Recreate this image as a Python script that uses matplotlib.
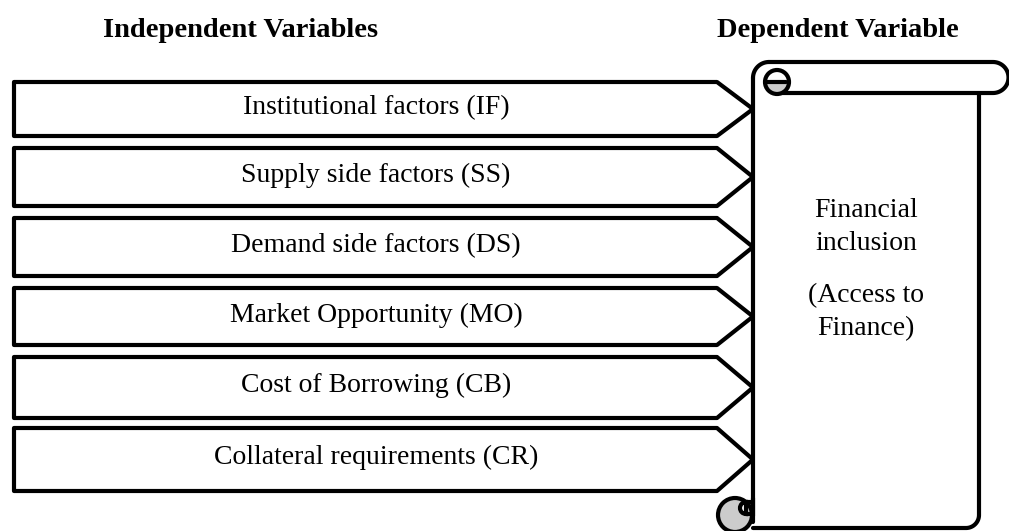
import numpy as np
import matplotlib
matplotlib.use("Agg")
import matplotlib.pyplot as plt
from matplotlib.patches import Polygon, Circle, Wedge

# ---- content ----
header_left = "Independent Variables"
header_right = "Dependent Variable"
factor_labels = [
    "Institutional factors (IF)",
    "Supply side factors (SS)",
    "Demand side factors (DS)",
    "Market Opportunity (MO)",
    "Cost of Borrowing (CB)",
    "Collateral requirements (CR)",
]
outcome_lines = ["Financial", "inclusion", "(Access to", "Finance)"]

# ---- layout (pixel coordinates) ----
W, H = 1009, 531
row_tops = [82, 148, 218, 288, 357, 428]
row_bottoms = [136, 206, 276, 345, 418, 491]
outcome_baselines = [217, 250, 302, 335]
arrow_left, arrow_flat_end, arrow_tip = 14, 717, 753
LW = 3.0
FS = 20
FS_HEAD = 20.5
SERIF = ["Liberation Serif", "DejaVu Serif"]

fig = plt.figure(figsize=(W / 100, H / 100), dpi=100)
ax = fig.add_axes([0, 0, 1, 1])
ax.set_xlim(0, W)
ax.set_ylim(H, 0)
ax.axis("off")

# headers
ax.text(241, 37, header_left, ha="center", va="baseline", fontsize=FS_HEAD,
        fontweight="bold", family=SERIF)
ax.text(838, 37, header_right, ha="center", va="baseline", fontsize=FS_HEAD,
        fontweight="bold", family=SERIF)

# arrows
for lab, t, b in zip(factor_labels, row_tops, row_bottoms):
    m = (t + b) / 2
    poly = Polygon([(arrow_left, t), (arrow_flat_end, t), (arrow_tip, m),
                    (arrow_flat_end, b), (arrow_left, b)], closed=True,
                   facecolor="white", edgecolor="black", lw=LW, joinstyle="round")
    ax.add_patch(poly)
    ax.text(376, m + 5, lab, ha="center", va="baseline", fontsize=FS, family=SERIF)

# ---- scroll ----
def arc(cx, cy, r, a0, a1, n=40):
    t = np.radians(np.linspace(a0, a1, n))
    return cx + r * np.cos(t), cy - r * np.sin(t)

kw = dict(color="black", lw=LW, solid_capstyle="round", solid_joinstyle="round")
xl, xr = 753, 979
band_top, band_bot = 62, 93
body_bot = 528

# body: right side + bottom
xs = [xr, xr]
ys = [band_bot, body_bot - 13]
ax_, ay_ = arc(xr - 13, body_bot - 13, 13, 0, -90)
xs += list(ax_) + [xl]
ys += list(ay_) + [body_bot]
ax.plot(xs, ys, **kw)

# left side
ax.plot([xl, xl], [78, 516], **kw)

# top-left outer curl
cx0, cy0 = 769, 78
axx, ayy = arc(cx0, cy0, 16, 90, 180)
ax.plot(axx, ayy, **kw)

# top band
bx, by = arc(993, (band_top + band_bot) / 2, (band_bot - band_top) / 2, 90, -90)
ax.plot([cx0] + list(bx) + [777], [band_top] + list(by) + [band_bot], **kw)

# inner curl (top): lower half grey
ccx, ccy, cr = 777, 82, 12
ax.add_patch(Wedge((ccx, ccy), cr, 0, 180, facecolor="#cccccc", edgecolor="none", zorder=3))
ax.add_patch(Circle((ccx, ccy), cr, facecolor="none", edgecolor="black", lw=LW, zorder=4))
ax.plot([ccx - cr, ccx + cr - 3], [ccy, ccy], zorder=4, **kw)

# bottom curl
ax.add_patch(Circle((735, 515), 17, facecolor="#cccccc", edgecolor="black", lw=LW, zorder=3))
ax.add_patch(Wedge((746, 508), 6, 90, 270, facecolor="white", edgecolor="black", lw=LW, zorder=4))
ax.plot([746, xl], [502, 502], zorder=5, **kw)
ax.plot([746, xl], [514, 514], zorder=5, **kw)
ax.plot([xl, xl], [498, 522], zorder=5, **kw)

# scroll text
for txt, y in zip(outcome_lines, outcome_baselines):
    ax.text(866, y, txt, ha="center", va="baseline", fontsize=FS, family=SERIF)

fig.savefig("out.png", dpi=100)
